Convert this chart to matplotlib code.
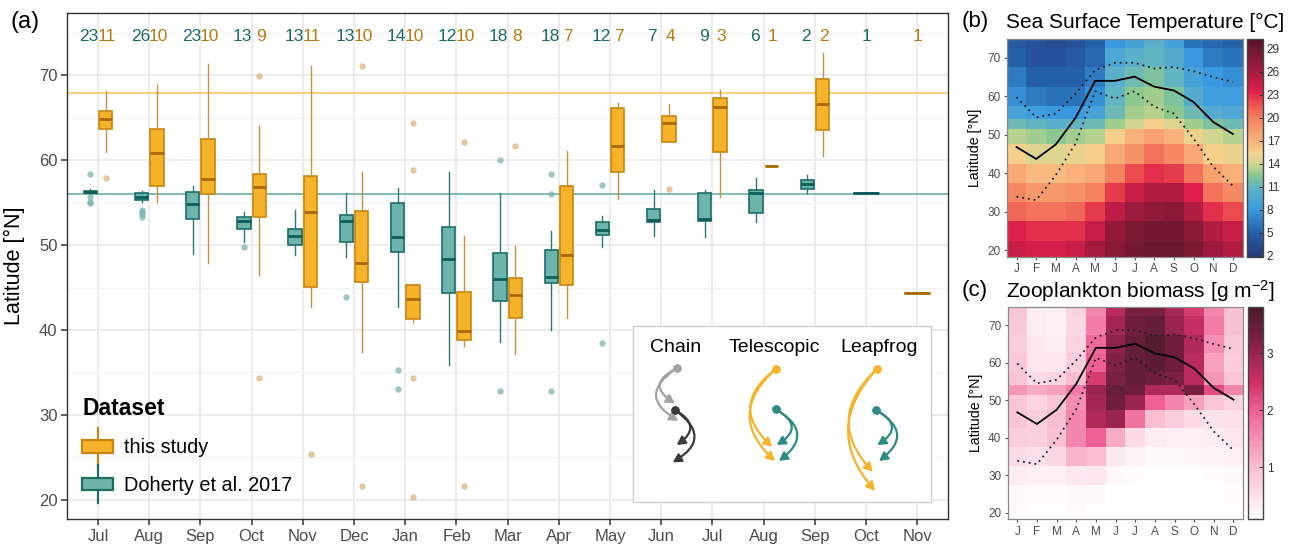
import numpy as np
import matplotlib
matplotlib.use('Agg')
import matplotlib.pyplot as plt
from matplotlib.patches import Rectangle, FancyArrowPatch
from matplotlib.lines import Line2D
from matplotlib.legend_handler import HandlerBase
from matplotlib.colors import LinearSegmentedColormap, Normalize

plt.rcParams['font.family'] = ['Liberation Sans', 'DejaVu Sans']
plt.rcParams['mathtext.fontset'] = 'custom'
plt.rcParams['mathtext.rm'] = 'Liberation Sans'
plt.rcParams['mathtext.default'] = 'rm'

# ---------------- data: panel (a) ----------------
months = ['Jul', 'Aug', 'Sep', 'Oct', 'Nov', 'Dec', 'Jan', 'Feb', 'Mar',
          'Apr', 'May', 'Jun', 'Jul', 'Aug', 'Sep', 'Oct', 'Nov']
nan = np.nan
doherty_n = [23, 26, 23, 13, 13, 13, 14, 12, 18, 18, 12, 7, 9, 6, 2, 1, None]
study_n = [11, 10, 10, 9, 11, 10, 10, 10, 8, 7, 7, 4, 3, 1, 2, None, 1]

doherty_lo = [56.0, 55.1, 48.95, 50.4, 48.83, 48.56, 42.67, 35.88, 38.62, 39.97, 49.82, 51.07, 50.99, 52.76, 56.14, 56.18, nan]
doherty_q1 = [56.1, 55.31, 53.11, 51.94, 50.05, 50.33, 49.15, 44.4, 43.4, 45.5, 51.15, 52.72, 52.84, 53.78, 56.68, 56.18, nan]
doherty_med = [56.25, 55.7, 54.84, 52.88, 51.11, 52.88, 50.95, 48.32, 45.97, 46.3, 51.74, 52.92, 53.07, 56.14, 57.24, 56.18, nan]
doherty_q3 = [56.41, 56.18, 56.22, 53.27, 51.86, 53.58, 54.96, 52.17, 49.11, 49.42, 52.68, 54.29, 56.1, 56.53, 57.71, 56.18, nan]
doherty_hi = [56.65, 56.41, 56.96, 53.86, 54.1, 56.14, 56.76, 58.65, 56.1, 51.7, 53.43, 56.45, 56.49, 57.94, 58.22, 56.18, nan]
doherty_out = [[58.45, 55.7, 55.1, 55.0], [54.2, 53.9, 53.7, 53.3], [], [49.82], [], [43.93],
               [35.25, 33.05], [], [60.1, 32.85], [58.37, 55.98, 32.82], [57.08, 38.5],
               [], [], [], [], [], []]

study_lo = [61.0, 55.12, 47.93, 46.48, 42.67, 37.45, 40.98, 38.15, 37.17, 41.41, 55.39, 62.18, 55.7, 59.32, 60.53, nan, 44.36]
study_q1 = [63.64, 56.96, 55.98, 53.35, 45.1, 45.69, 41.3, 38.78, 41.45, 45.27, 58.57, 62.18, 60.97, 59.32, 63.6, nan, 44.36]
study_med = [64.89, 60.89, 57.79, 56.88, 53.9, 47.85, 43.65, 39.88, 44.16, 48.87, 61.67, 64.38, 66.31, 59.32, 66.66, nan, 44.36]
study_q3 = [65.87, 63.75, 62.46, 58.41, 58.1, 53.98, 45.34, 44.51, 46.12, 56.96, 66.19, 65.17, 67.29, 59.32, 69.64, nan, 44.36]
study_hi = [68.19, 68.86, 71.37, 64.03, 71.1, 58.57, 45.4, 51.11, 49.9, 61.08, 66.7, 66.62, 68.27, 59.32, 72.7, nan, 44.36]
study_out = [[57.9], [], [], [69.92, 34.38], [25.4], [71.13, 21.63],
             [64.38, 58.88, 34.38, 20.37], [62.18, 21.63], [61.67], [], [],
             [56.65], [], [], [], [], []]

study_ref_lat = 67.9
doherty_ref_lat = 56.08
dataset_labels = ['this study', 'Doherty et al. 2017']

# ---------------- data: panels (b), (c) ----------------
month_letters = ['J', 'F', 'M', 'A', 'M', 'J', 'J', 'A', 'S', 'O', 'N', 'D']
lat_edges = [18, 22.5, 27.5, 32.5, 37.5, 42.5, 47.5, 51.5, 54, 57.5, 62.5, 67.5, 72.5, 75]
# rows: south -> north, columns: J..D
sst_values = [
    [24.5, 24.0, 24.0, 24.5, 26.0, 27.5, 28.5, 29.0, 29.0, 28.0, 26.5, 25.5],
    [23.5, 23.0, 23.0, 23.0, 24.5, 27.0, 28.0, 28.5, 28.5, 27.5, 25.5, 24.5],
    [21.0, 20.5, 20.5, 21.0, 22.5, 25.0, 26.5, 27.0, 27.5, 25.5, 23.0, 22.0],
    [19.5, 18.5, 18.5, 19.0, 20.0, 22.5, 24.5, 25.5, 25.5, 23.5, 20.5, 19.5],
    [17.5, 16.5, 16.5, 17.0, 17.5, 20.0, 22.0, 23.0, 22.5, 20.5, 18.0, 17.0],
    [15.5, 14.5, 14.5, 15.0, 15.5, 17.5, 19.0, 20.5, 19.5, 17.5, 15.5, 15.0],
    [13.5, 13.0, 12.5, 13.0, 13.5, 15.5, 17.0, 18.0, 17.0, 15.0, 14.0, 13.5],
    [11.5, 11.0, 10.5, 11.0, 11.5, 13.0, 14.0, 15.5, 14.5, 13.0, 12.0, 11.5],
    [9.0, 8.5, 8.0, 8.0, 9.0, 11.5, 13.0, 13.5, 12.5, 11.5, 10.0, 9.5],
    [7.5, 6.5, 6.0, 6.0, 7.5, 11.0, 12.5, 13.0, 12.0, 10.0, 8.5, 8.5],
    [6.5, 5.0, 5.0, 5.0, 6.5, 10.5, 11.5, 12.0, 11.0, 9.0, 8.0, 7.5],
    [5.0, 4.0, 4.0, 4.5, 5.5, 9.5, 10.5, 11.0, 10.0, 8.0, 6.5, 6.0],
    [4.5, 4.0, 3.5, 4.0, 5.0, 8.0, 9.0, 10.5, 9.0, 6.0, 5.5, 5.0],
]
zoo_values = [
    [0.15, 0.12, 0.12, 0.15, 0.12, 0.10, 0.10, 0.08, 0.08, 0.08, 0.10, 0.12],
    [0.20, 0.15, 0.15, 0.20, 0.20, 0.12, 0.10, 0.10, 0.10, 0.10, 0.12, 0.15],
    [0.35, 0.30, 0.30, 0.40, 0.45, 0.20, 0.15, 0.12, 0.12, 0.12, 0.15, 0.20],
    [0.60, 0.55, 0.65, 1.10, 1.00, 0.40, 0.25, 0.20, 0.20, 0.20, 0.25, 0.30],
    [0.80, 0.75, 0.95, 1.60, 2.00, 1.20, 0.60, 0.35, 0.30, 0.30, 0.35, 0.45],
    [0.90, 0.75, 1.00, 1.60, 2.80, 3.00, 1.80, 1.00, 0.80, 0.60, 0.50, 0.55],
    [0.90, 0.70, 0.90, 1.50, 2.90, 3.40, 3.00, 2.00, 1.60, 1.30, 0.90, 0.70],
    [1.40, 1.20, 1.30, 1.70, 3.00, 3.50, 3.40, 2.80, 2.80, 3.30, 2.20, 1.60],
    [0.90, 0.60, 0.70, 1.00, 2.40, 3.30, 3.50, 3.40, 3.30, 2.70, 1.40, 0.90],
    [0.85, 0.45, 0.45, 0.80, 2.00, 3.20, 3.50, 3.60, 3.40, 2.70, 1.30, 0.80],
    [0.80, 0.40, 0.35, 0.70, 1.90, 3.10, 3.50, 3.70, 3.40, 2.80, 1.50, 0.85],
    [0.85, 0.35, 0.30, 0.65, 1.70, 2.90, 3.40, 3.50, 3.00, 2.60, 1.70, 0.95],
    [0.90, 0.35, 0.30, 0.70, 1.60, 2.70, 3.30, 3.30, 2.90, 2.40, 1.60, 0.95],
]
median_lat = [46.8, 43.7, 47.5, 54.4, 64.0, 64.0, 65.1, 62.5, 61.5, 58.5, 53.3, 50.2]
upper_lat = [59.8, 54.5, 55.5, 60.7, 66.8, 68.7, 68.7, 67.2, 67.6, 66.5, 65.0, 63.7]
lower_lat = [33.9, 33.0, 39.5, 47.7, 61.3, 59.4, 61.3, 57.3, 55.5, 49.0, 41.7, 36.7]
sst_ticks = [2, 5, 8, 11, 14, 17, 20, 23, 26, 29]
zoo_ticks = [1, 2, 3]

# ---------------- styling ----------------
W, H = 1304, 547
fig = plt.figure(figsize=(W / 100, H / 100), dpi=100)


def px_axes(l, t, r, b):
    return fig.add_axes([l / W, 1 - b / H, (r - l) / W, (b - t) / H])


TEAL = dict(face='#6db5ac', edge='#1d6c66', med='#0e5d58', whisk='#2a7a74',
            out='#7fb5b0', text='#1a6b66', ref='#5fa8a2')
ORANGE = dict(face='#f5b32c', edge='#c8860e', med='#a86a08', whisk='#c9923a',
              out='#dcb57c', text='#b87a10', ref='#f6c45e')

ax = px_axes(67.3, 12.7, 948, 519.3)
ax.set_xlim(0.4, 17.6)
ax.set_ylim(17.7, 77.4)
ax.set_yticks([20, 30, 40, 50, 60, 70])
ax.set_yticks([25, 35, 45, 55, 65, 75], minor=True)
ax.set_xticks(np.arange(1, len(months) + 1))
ax.set_xticklabels(months)
ax.grid(which='major', color='#ebebeb', lw=1.3, zorder=0)
ax.grid(which='minor', axis='y', color='#f2f2f2', lw=0.9, zorder=0)
ax.set_axisbelow(True)
ax.tick_params(which='major', length=4, width=1.1, color='#333333',
               labelcolor='#4d4d4d', labelsize=12, pad=3)
ax.tick_params(which='minor', length=0)
for s in ax.spines.values():
    s.set_color('#333333')
    s.set_linewidth(1.0)
ax.set_ylabel('Latitude [°N]', fontsize=15.5)
ax.yaxis.set_label_coords(-0.048, 0.5)

ax.axhline(study_ref_lat, color=ORANGE['ref'], lw=1.1, zorder=1.5)
ax.axhline(doherty_ref_lat, color=TEAL['ref'], lw=1.1, zorder=1.5)


def draw_box(pos, width, lo, q1, med, q3, hi, out, st):
    stats = [dict(whislo=lo, q1=q1, med=med, q3=q3, whishi=hi,
                  fliers=np.array(out, dtype=float))]
    ax.bxp(stats, positions=[pos], widths=[width], patch_artist=True,
           showcaps=False, manage_ticks=False,
           boxprops=dict(facecolor=st['face'], edgecolor=st['edge'], lw=1.2),
           medianprops=dict(color=st['med'], lw=2.0, solid_capstyle='butt'),
           whiskerprops=dict(color=st['whisk'], lw=1.0),
           flierprops=dict(marker='o', markersize=4.6, markerfacecolor=st['out'],
                           markeredgecolor='none', alpha=0.75),
           zorder=3)


for i in range(len(months)):
    x = i + 1
    has_d = doherty_n[i] is not None
    has_s = study_n[i] is not None
    both = has_d and has_s
    if has_d:
        px = x - 0.15 if both else x
        w = 0.26 if both else 0.5
        draw_box(px, w, doherty_lo[i], doherty_q1[i], doherty_med[i], doherty_q3[i],
                 doherty_hi[i], doherty_out[i], TEAL)
        ax.text(x - 0.175 if both else x, 74.6, str(doherty_n[i]), ha='center',
                va='center', fontsize=12.5, color=TEAL['text'])
    if has_s:
        px = x + 0.15 if both else x
        w = 0.26 if both else 0.5
        draw_box(px, w, study_lo[i], study_q1[i], study_med[i], study_q3[i],
                 study_hi[i], study_out[i], ORANGE)
        ax.text(x + 0.175 if both else x, 74.6, str(study_n[i]), ha='center',
                va='center', fontsize=12.5, color=ORANGE['text'])


# legend with box-shaped keys
class BoxHandle:
    def __init__(self, st):
        self.st = st


class HandlerBox(HandlerBase):
    def create_artists(self, legend, orig, xd, yd, width, height, fontsize, trans):
        st = orig.st
        cy = -yd + height / 2
        bh = height * 0.72
        line = Line2D([-xd + width / 2] * 2, [cy - height * 1.05, cy + height * 1.05],
                      color=st['edge'], lw=1.6, transform=trans)
        rect = Rectangle((-xd, cy - bh / 2), width, bh, facecolor=st['face'],
                         edgecolor=st['edge'], lw=1.6, transform=trans)
        return [line, rect]


handles = [BoxHandle(ORANGE), BoxHandle(TEAL)]
leg = ax.legend(handles, dataset_labels, handler_map={BoxHandle: HandlerBox()},
                title='Dataset', loc='upper left', bbox_to_anchor=(0.017, 0.242),
                frameon=False, fontsize=14.3, handlelength=1.55, handleheight=1.0,
                handletextpad=0.55, labelspacing=0.9, borderpad=0, borderaxespad=0,
                alignment='left',
                title_fontproperties=dict(size=16.5, weight='bold'))

fig.text(10 / W, 1 - 22 / H, '(a)', fontsize=17, va='center', ha='left')

# ---------------- inset schematic ----------------
iax = px_axes(633.3, 325.7, 930.7, 501.7)
iax.set_xlim(0, 297.4)
iax.set_ylim(0, 176)
iax.set_xticks([])
iax.set_yticks([])
for s in iax.spines.values():
    s.set_color('#cfcfcf')
    s.set_linewidth(1.0)

scheme_titles = ['Chain', 'Telescopic', 'Leapfrog']
scheme_title_x = [42.7, 140.7, 245.7]
for t, tx in zip(scheme_titles, scheme_title_x):
    iax.text(tx, 154, t, ha='center', va='center', fontsize=14)

GREY, DARK, ORA, TEA = '#a3a3a3', '#3a3a3a', '#f5b32c', '#2e8b83'
# (start, end, rad, colour)
arrows = [
    ((43.4, 133.4), (41.7, 98.4), 0.9, GREY),
    ((43.4, 133.4), (45.0, 81.0), 0.8, GREY),
    ((41.7, 91.7), (43.4, 56.7), -0.8, DARK),
    ((41.7, 91.7), (39.4, 39.4), -0.77, DARK),
    ((142.4, 132.7), (139.0, 55.0), 0.6, ORA),
    ((142.4, 132.7), (141.7, 40.7), 0.55, ORA),
    ((142.4, 92.4), (143.4, 56.7), -0.85, TEA),
    ((142.4, 92.4), (145.7, 40.7), -0.75, TEA),
    ((243.4, 132.4), (239.4, 30.0), 0.5, ORA),
    ((243.4, 132.4), (241.7, 11.0), 0.45, ORA),
    ((242.7, 91.7), (244.0, 56.7), -0.85, TEA),
    ((242.7, 91.7), (245.7, 40.7), -0.75, TEA),
]
for a, b, r, c in arrows:
    iax.add_patch(FancyArrowPatch(a, b, connectionstyle=f'arc3,rad={r}',
                                  arrowstyle='-|>,head_length=0.55,head_width=0.3',
                                  mutation_scale=9, color=c, lw=1.6,
                                  shrinkA=0, shrinkB=0))
    iax.plot(*a, 'o', ms=5, color=c, zorder=5)

# ---------------- heatmaps ----------------
sst_cmap = LinearSegmentedColormap.from_list('sst', [
    (0.0, '#27397a'), (0.11, '#2460a8'), (0.22, '#3b9be0'), (0.32, '#62b3c4'),
    (0.375, '#8cc98e'), (0.43, '#d4d690'), (0.48, '#f6d08c'), (0.535, '#f9b078'),
    (0.64, '#f5825f'), (0.71, '#eb4a4e'), (0.765, '#dc1f4b'), (0.85, '#a81b40'),
    (0.95, '#701830'), (1.0, '#5a1228')])
zoo_cmap = LinearSegmentedColormap.from_list('zoo', [
    (0.0, '#ffffff'), (0.245, '#f9bed0'), (0.51, '#ef6196'), (0.65, '#cf3066'),
    (0.78, '#9a2450'), (0.9, '#6a1e3a'), (1.0, '#4b1c2c')])

month_edges = np.arange(0.5, 13, 1.0)


def heat(box, cbox, values, cmap, vmin, vmax, ticks, label_y, tag, title):
    hax = px_axes(*box)
    m = hax.pcolormesh(month_edges, lat_edges, np.array(values), cmap=cmap,
                       norm=Normalize(vmin, vmax), shading='flat')
    hax.plot(np.arange(1, 13), median_lat, color='black', lw=1.3)
    hax.plot(np.arange(1, 13), upper_lat, color='#222222', lw=1.3, ls=(0, (1, 2.2)))
    hax.plot(np.arange(1, 13), lower_lat, color='#222222', lw=1.3, ls=(0, (1, 2.2)))
    hax.set_xlim(0.5, 12.5)
    hax.set_ylim(18.3, 74.8)
    hax.set_xticks(np.arange(1, 13))
    hax.set_xticklabels(month_letters)
    hax.set_yticks([20, 30, 40, 50, 60, 70])
    hax.tick_params(length=2.5, width=0.8, color='#555555', labelcolor='#4d4d4d',
                    labelsize=8.5, pad=2)
    for s in hax.spines.values():
        s.set_color('#8a8a8a')
        s.set_linewidth(0.9)
    hax.set_ylabel('Latitude [°N]', fontsize=10.2)
    hax.yaxis.set_label_coords(-0.105, 0.5)
    cax = px_axes(*cbox)
    cb = fig.colorbar(m, cax=cax, ticks=ticks)
    cb.outline.set_edgecolor('#444444')
    cb.outline.set_linewidth(1.0)
    cax.tick_params(length=3, width=0.7, direction='in', color='#333333',
                    labelcolor='#333333', labelsize=8.5, pad=3)
    fig.text(962 / W, 1 - label_y / H, tag, fontsize=16, va='center', ha='left')
    fig.text(1006 / W, 1 - label_y / H, title, fontsize=15, va='center', ha='left')


heat((1006.7, 39.3, 1242.7, 256.7), (1247.3, 39.3, 1262.7, 256.7), sst_values,
     sst_cmap, 1.9, 30.2, sst_ticks, 22, '(b)', 'Sea Surface Temperature [°C]')
heat((1007.5, 307.3, 1243.3, 519.3), (1248.3, 307.3, 1262.7, 519.3), zoo_values,
     zoo_cmap, 0.09, 3.81, zoo_ticks, 291, '(c)', 'Zooplankton biomass [g m$^{-2}$]')

fig.savefig('out.png', dpi=100)
